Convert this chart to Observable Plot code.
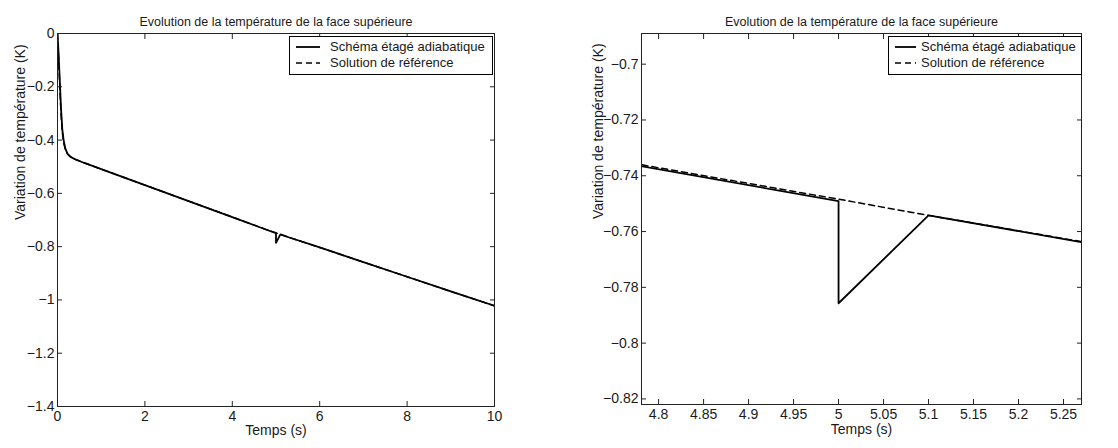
<!DOCTYPE html>
<html><head><meta charset="utf-8">
<script src="https://cdn.jsdelivr.net/npm/d3@7"></script>
<script src="https://cdn.jsdelivr.net/npm/@observablehq/plot@0.6"></script>
<style>
body{margin:0;background:#fff;}
#wrap{position:relative;width:1118px;height:448px;font-family:"Liberation Sans",Arial,sans-serif;color:#1a1a1a;overflow:hidden;}
.panel{position:absolute;top:0;}
.legend{position:absolute;border:1px solid #000;background:#fff;font-size:13px;line-height:16px;padding:2px 0 3px 0;box-sizing:border-box;white-space:nowrap;}
.legend .row{display:flex;align-items:center;height:16px;}
.legend svg{margin:0 8px 0 6px;flex:none;}
</style></head><body><div id="wrap"></div>
<script>
// ---- data ----
const seriesNames = ["Schéma étagé adiabatique", "Solution de référence"];
const title = "Evolution de la température de la face supérieure";
const xLabel = "Temps (s)";
const yLabel = "Variation de température (K)";

// reference solution
const refT = [0, 0.02, 0.05, 0.08, 0.11, 0.14, 0.18, 0.23, 0.3, 0.4, 0.6, 1, 2, 3, 4, 4.78, 5.0, 5.1, 5.27, 6, 7, 8, 9, 10];
const refV = [0, -0.07, -0.19, -0.3, -0.37, -0.41, -0.435, -0.452, -0.463, -0.472, -0.485, -0.509, -0.569, -0.629, -0.689, -0.7360, -0.7484, -0.7542, -0.7636, -0.803, -0.858, -0.913, -0.968, -1.022];
// staged adiabatic scheme (with the perturbation at t = 5 s)
const schT = [0, 0.02, 0.05, 0.08, 0.11, 0.14, 0.18, 0.23, 0.3, 0.4, 0.6, 1, 2, 3, 4, 4.78, 5.0, 5.0, 5.1, 5.27, 6, 7, 8, 9, 10];
const schV = [0, -0.06, -0.17, -0.28, -0.36, -0.40, -0.432, -0.452, -0.463, -0.472, -0.485, -0.509, -0.569, -0.629, -0.689, -0.7365, -0.7491, -0.7857, -0.7542, -0.7638, -0.803, -0.858, -0.913, -0.968, -1.022];

// axes
const leftXDomain = [0, 10];
const leftYDomain = [-1.4, 0];
const leftXTicks = [0, 2, 4, 6, 8, 10];
const leftYTicks = [0, -0.2, -0.4, -0.6, -0.8, -1, -1.2, -1.4];
const rightXDomain = [4.781, 5.270];
const rightYDomain = [-0.822, -0.689];
const rightXTicks = [4.8, 4.85, 4.9, 4.95, 5, 5.05, 5.1, 5.15, 5.2, 5.25];
const rightYTicks = [-0.7, -0.72, -0.74, -0.76, -0.78, -0.8, -0.82];

const ref = refT.map((t, i) => ({t, v: refV[i]}));
const sch = schT.map((t, i) => ({t, v: schV[i]}));
const fmt = d => (d < 0 ? "\u2212" : "") + String(Math.abs(d));

function panel(o) {
  return Plot.plot({
    width: o.width, height: 448,
    marginLeft: o.ml, marginRight: o.mr, marginTop: o.mt, marginBottom: o.mb,
    style: {fontFamily: "Liberation Sans, Arial, sans-serif", fontSize: "14px", color: "#1a1a1a", background: "white", overflow: "visible"},
    x: {domain: o.xDomain},
    y: {domain: o.yDomain},
    marks: [
      Plot.line(ref, {x: "t", y: "v", stroke: "#000", strokeWidth: 1.5, strokeDasharray: "6,4", clip: true}),
      Plot.line(sch, {x: "t", y: "v", stroke: "#000", strokeWidth: 1.8, clip: true}),
      Plot.frame({stroke: "#222"}),
      Plot.axisX(o.xTicks, {anchor: "bottom", tickSize: -5, tickPadding: 10, tickFormat: fmt, fontSize: 14, label: null, stroke: "#222"}),
      Plot.axisX(o.xTicks, {anchor: "top", tickSize: -5, text: null, label: null, stroke: "#222"}),
      Plot.axisY(o.yTicks, {anchor: "left", tickSize: -5, tickPadding: 8, tickFormat: fmt, fontSize: 14, label: null, stroke: "#222"}),
      Plot.axisY(o.yTicks, {anchor: "right", tickSize: -5, text: null, label: null, stroke: "#222"}),
      Plot.text([title], {frameAnchor: "top", dy: -16, fontSize: 12.5, text: d => d}),
      Plot.text([xLabel], {frameAnchor: "bottom", dy: o.xLabelDy, fontSize: 14, text: d => d}),
      Plot.text([yLabel], {frameAnchor: "left", dx: o.yLabelDx, rotate: -90, fontSize: 14, text: d => d})
    ]
  });
}

const wrap = document.getElementById("wrap");
function place(el, left) { el.classList.add("panel"); el.style.left = left + "px"; wrap.appendChild(el); }

place(panel({width: 559, ml: 57, mr: 65, mt: 33, mb: 42, xDomain: leftXDomain, yDomain: leftYDomain, xTicks: leftXTicks, yTicks: leftYTicks, xLabelDy: 28, yLabelDx: -37}), 0);
place(panel({width: 559, ml: 82, mr: 37, mt: 33, mb: 44, xDomain: rightXDomain, yDomain: rightYDomain, xTicks: rightXTicks, yTicks: rightYTicks, xLabelDy: 29, yLabelDx: -43}), 559);

function legend(left, top, width, sample, gap) {
  const d = document.createElement("div");
  d.className = "legend";
  d.style.left = left + "px"; d.style.top = top + "px"; d.style.width = width + "px";
  seriesNames.forEach((name, i) => {
    const r = document.createElement("div");
    r.className = "row";
    r.innerHTML = `<svg width="${sample}" height="10" style="margin-right:${gap}px"><line x1="0" y1="5" x2="${sample}" y2="5" stroke="#000" stroke-width="${i === 0 ? 1.8 : 1.6}" ${i === 1 ? 'stroke-dasharray="6,4"' : ''}/></svg><span>${name}</span>`;
    d.appendChild(r);
  });
  wrap.appendChild(d);
}
legend(289, 36, 204, 24, 10);
legend(888, 36, 194, 21, 5);
</script>
</body></html>
